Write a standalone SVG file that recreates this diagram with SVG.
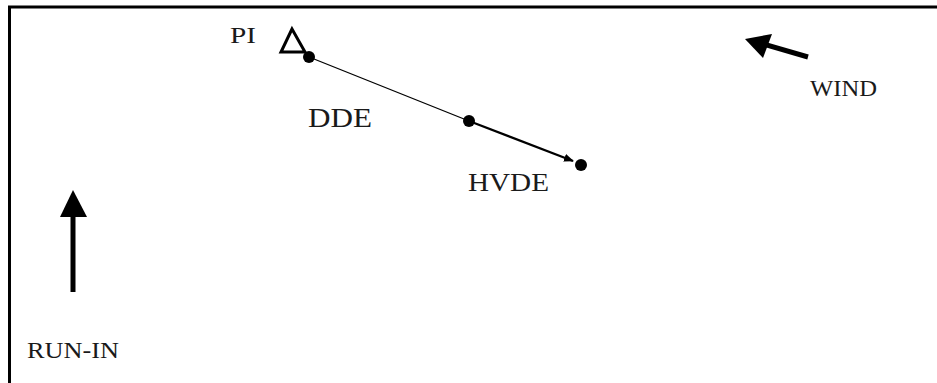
<svg xmlns="http://www.w3.org/2000/svg" width="937" height="383" viewBox="0 0 937 383">
<defs>
<style>
.t{font-family:"Liberation Serif","Times New Roman",serif;fill:#1a1a1a;}
.dot{fill:#000;}
</style>
<marker id="ah" markerWidth="10" markerHeight="8" refX="9" refY="4" orient="auto" markerUnits="userSpaceOnUse">
<path d="M0,0 L10,4 L0,8 Z" fill="#000"/>
</marker>
</defs>
<rect width="937" height="383" fill="#fff"/>
<rect x="9.5" y="7" width="1000" height="1000" fill="none" stroke="#000" stroke-width="3"/>
<g id="connectors">
<line x1="309" y1="57" x2="469" y2="121" stroke="#000" stroke-width="1.3"/>
<line x1="469" y1="121" x2="573" y2="161" stroke="#000" stroke-width="2.2" marker-end="url(#ah)"/>
</g>
<g id="PI">
<polygon points="292,29 281,52 305,52" fill="none" stroke="#000" stroke-width="3" stroke-linejoin="miter"/>
<text class="t" x="230" y="43" font-size="23" textLength="26" lengthAdjust="spacingAndGlyphs">PI</text>
<circle class="dot" cx="309" cy="57" r="6"/>
</g>
<g id="DDE">
<circle class="dot" cx="469" cy="121" r="6"/>
<text class="t" x="308" y="127" font-size="27" textLength="64" lengthAdjust="spacingAndGlyphs">DDE</text>
</g>
<g id="HVDE">
<circle class="dot" cx="581" cy="165" r="6"/>
<text class="t" x="468" y="191" font-size="26" textLength="81" lengthAdjust="spacingAndGlyphs">HVDE</text>
</g>
<g id="WIND">
<line x1="808" y1="57" x2="760" y2="43" stroke="#000" stroke-width="5"/>
<polygon points="745,39 772,34 763,58" fill="#000"/>
<text class="t" x="810" y="96" font-size="24" textLength="67" lengthAdjust="spacingAndGlyphs">WIND</text>
</g>
<g id="RUN-IN">
<line x1="73" y1="215" x2="73" y2="292" stroke="#000" stroke-width="5"/>
<polygon points="73,190 60,217 87,217" fill="#000"/>
<text class="t" x="27" y="358" font-size="23" textLength="92" lengthAdjust="spacingAndGlyphs">RUN-IN</text>
</g>
</svg>
